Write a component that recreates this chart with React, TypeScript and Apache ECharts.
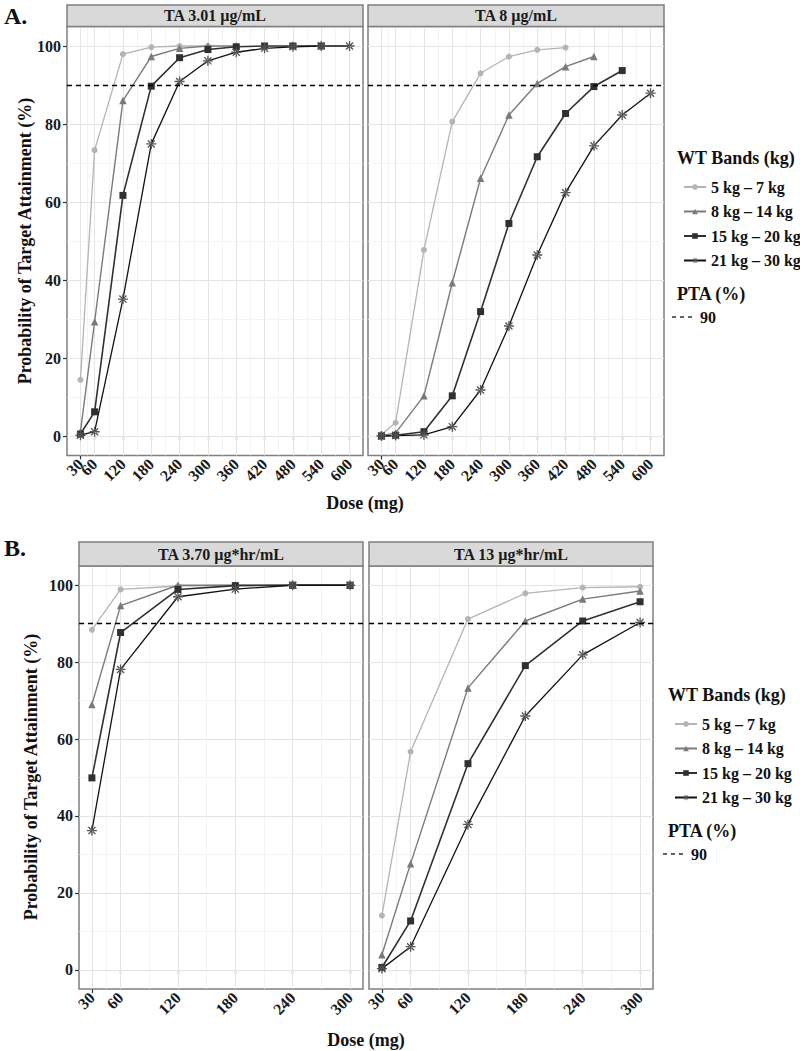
import React, { useEffect, useRef } from 'react';
import * as echarts from 'echarts';

// ---------- data ----------
const WT_BANDS = ['5 kg – 7 kg', '8 kg – 14 kg', '15 kg – 20 kg', '21 kg – 30 kg'];

const DOSES_A = [30, 60, 120, 180, 240, 300, 360, 420, 480, 540, 600];
const DOSES_B = [30, 60, 120, 180, 240, 300];

const X_TICKS_A = [30, 60, 120, 180, 240, 300, 360, 420, 480, 540, 600];
const X_MINOR_A = [45, 90, 150, 210, 270, 330, 390, 450, 510, 570];
const X_TICKS_B = [30, 60, 120, 180, 240, 300];
const X_MINOR_B = [45, 90, 150, 210, 270];
const Y_TICKS = [0, 20, 40, 60, 80, 100];
const Y_MINOR = [10, 30, 50, 70, 90];
const PTA_TARGET = 90;

// Panel A, TA 3.01 µg/mL
const A1_WT1 = [14.4, 73.3, 97.9, 99.7, 100, 100];
const A1_WT2 = [1.1, 29.3, 86.0, 97.3, 99.4, 100, 100];
const A1_WT3 = [0.5, 6.2, 61.7, 89.7, 97.0, 99.1, 99.8, 100, 100, 100];
const A1_WT4 = [0.2, 1.1, 35.1, 74.9, 90.9, 96.2, 98.4, 99.4, 99.8, 100, 100];

// Panel A, TA 8 µg/mL
const A2_WT1 = [0.4, 3.4, 47.7, 80.6, 93.0, 97.3, 99.0, 99.6];
const A2_WT2 = [0.1, 0.8, 10.3, 39.3, 66.1, 82.3, 90.4, 94.7, 97.3];
const A2_WT3 = [0, 0.2, 1.1, 10.3, 31.9, 54.5, 71.6, 82.7, 89.6, 93.7];
const A2_WT4 = [0, 0.1, 0.3, 2.4, 11.8, 28.2, 46.4, 62.4, 74.4, 82.3, 87.9];

// Panel B, TA 3.70 µg*hr/mL
const B1_WT1 = [88.4, 98.9, 99.8, 100, 100, 100];
const B1_WT2 = [69.0, 94.7, 100, 100, 100, 100];
const B1_WT3 = [49.9, 87.7, 98.9, 99.9, 100, 100];
const B1_WT4 = [36.2, 78.1, 97.0, 99.0, 100, 100];

// Panel B, TA 13 µg*hr/mL
const B2_WT1 = [14.1, 56.7, 91.2, 97.9, 99.4, 99.6];
const B2_WT2 = [3.9, 27.6, 73.3, 90.7, 96.4, 98.5];
const B2_WT3 = [0.6, 12.7, 53.6, 79.1, 90.7, 95.7];
const B2_WT4 = [0.3, 6.0, 37.8, 66.0, 81.9, 90.3];

const STRIP_TITLES = ['TA 3.01 µg/mL', 'TA 8 µg/mL', 'TA 3.70 µg*hr/mL', 'TA 13 µg*hr/mL'];

// ---------- styles ----------
const FONT = '"Liberation Serif", "Times New Roman", serif';
const ASTERISK =
  'path://M-0.8,-6L0.8,-6L0.8,6L-0.8,6Z M-6,-0.8L6,-0.8L6,0.8L-6,0.8Z M3.67,4.81L4.81,3.67L-3.67,-4.81L-4.81,-3.67Z M-3.67,4.81L-4.81,3.67L3.67,-4.81L4.81,-3.67Z';

const BAND_STYLE = [
  { symbol: 'circle', size: 6, line: '#b4b4b4', mark: '#b4b4b4', width: 1.3 },
  { symbol: 'triangle', size: 7.5, line: '#7a7a7a', mark: '#7a7a7a', width: 1.4 },
  { symbol: 'rect', size: 7, line: '#303030', mark: '#303030', width: 1.6 },
  { symbol: ASTERISK, size: 10, line: '#111111', mark: '#555555', width: 1.3 },
];

const PANELS = [
  { grid: { left: 67, top: 26.5, width: 296, height: 429 }, xMin: 1.5, xMax: 628.5, ticks: X_TICKS_A, minor: X_MINOR_A, doses: DOSES_A, values: [A1_WT1, A1_WT2, A1_WT3, A1_WT4], stripH: 21.5, showY: true },
  { grid: { left: 368, top: 26.5, width: 296, height: 429 }, xMin: 1.5, xMax: 628.5, ticks: X_TICKS_A, minor: X_MINOR_A, doses: DOSES_A, values: [A2_WT1, A2_WT2, A2_WT3, A2_WT4], stripH: 21.5, showY: false },
  { grid: { left: 79, top: 566, width: 284, height: 423 }, xMin: 16.5, xMax: 313.5, ticks: X_TICKS_B, minor: X_MINOR_B, doses: DOSES_B, values: [B1_WT1, B1_WT2, B1_WT3, B1_WT4], stripH: 24, showY: true },
  { grid: { left: 369, top: 566, width: 284, height: 423 }, xMin: 16.5, xMax: 313.5, ticks: X_TICKS_B, minor: X_MINOR_B, doses: DOSES_B, values: [B2_WT1, B2_WT2, B2_WT3, B2_WT4], stripH: 24, showY: false },
];

function buildOption() {
  const grids: any[] = [];
  const xAxes: any[] = [];
  const yAxes: any[] = [];
  const series: any[] = [];
  const graphic: any[] = [];

  const xAxisBase = (i: number, p: any, values: number[]) => ({
    type: 'value',
    gridIndex: i,
    position: 'bottom',
    min: p.xMin,
    max: p.xMax,
    axisLine: { show: false },
    splitLine: { show: false },
    axisTick: { show: true, length: 4, lineStyle: { color: '#333', width: 1.2 }, customValues: values },
    axisLabel: {
      customValues: values,
      interval: 0,
      rotate: 45,
      margin: 6,
      fontFamily: FONT,
      fontWeight: 'bold',
      fontSize: 16,
      color: '#1a1a1a',
    },
  });

  // extra axes (one per panel) that carry only the first tick label, so that
  // the close 30 / 60 labels are not hidden by the min-label overlap rule
  const extraAxes: any[] = [];

  PANELS.forEach((p, i) => {
    grids.push({
      ...p.grid,
      show: true,
      borderColor: '#7f7f7f',
      borderWidth: 1.5,
      backgroundColor: '#ffffff',
      containLabel: false,
    });
    xAxes.push(xAxisBase(i, p, p.ticks.slice(1)));
    extraAxes.push(xAxisBase(i, p, p.ticks.slice(0, 1)));
    yAxes.push({
      type: 'value',
      gridIndex: i,
      min: -5,
      max: 105,
      axisLine: { show: false },
      splitLine: { show: false },
      axisTick: { show: p.showY, length: 4, lineStyle: { color: '#333', width: 1.2 }, customValues: Y_TICKS },
      axisLabel: {
        show: p.showY,
        customValues: Y_TICKS,
        interval: 0,
        margin: 6,
        fontFamily: FONT,
        fontWeight: 'bold',
        fontSize: 16,
        color: '#1a1a1a',
      },
    });

    // gridlines
    const gl: any[] = [];
    p.ticks.forEach((v) => gl.push({ xAxis: v, lineStyle: { color: '#e4e4e4', width: 1, type: 'solid' } }));
    p.minor.forEach((v) => gl.push({ xAxis: v, lineStyle: { color: '#efefef', width: 0.7, type: 'solid' } }));
    Y_TICKS.forEach((v) => gl.push({ yAxis: v, lineStyle: { color: '#e4e4e4', width: 1, type: 'solid' } }));
    Y_MINOR.forEach((v) => gl.push({ yAxis: v, lineStyle: { color: '#efefef', width: 0.7, type: 'solid' } }));
    series.push({
      type: 'line',
      xAxisIndex: i,
      yAxisIndex: i,
      data: [],
      z: 1,
      silent: true,
      markLine: { z: 1, silent: true, symbol: ['none', 'none'], label: { show: false }, data: gl, animation: false },
    });

    p.values.forEach((vals, b) => {
      const st = BAND_STYLE[b];
      series.push({
        type: 'line',
        name: WT_BANDS[b],
        xAxisIndex: i,
        yAxisIndex: i,
        data: vals.map((v, k) => [p.doses[k], v]),
        symbol: st.symbol,
        symbolSize: st.size,
        showAllSymbol: true,
        z: 3 + b,
        lineStyle: { color: st.line, width: st.width },
        itemStyle: { color: st.mark, borderWidth: 0 },
      });
    });

    series.push({
      type: 'line',
      xAxisIndex: i,
      yAxisIndex: i,
      data: [],
      z: 10,
      silent: true,
      markLine: {
        z: 10,
        silent: true,
        symbol: ['none', 'none'],
        label: { show: false },
        lineStyle: { color: '#000', width: 1.4, type: [5, 4] },
        data: [{ yAxis: PTA_TARGET }],
        animation: false,
      },
    });

    // strip
    graphic.push({
      type: 'rect',
      shape: { x: p.grid.left, y: p.grid.top - p.stripH, width: p.grid.width, height: p.stripH },
      style: { fill: '#d9d9d9', stroke: '#7f7f7f', lineWidth: 1.5 },
      z: 5,
    });
    graphic.push({
      type: 'text',
      x: p.grid.left + p.grid.width / 2,
      y: p.grid.top - p.stripH / 2,
      style: {
        text: STRIP_TITLES[i],
        font: `bold 16px ${FONT}`,
        fill: '#1a1a1a',
        textAlign: 'center',
        textVerticalAlign: 'middle',
      },
      z: 6,
    });
  });

  const txt = (text: string, x: number, y: number, size: number, extra: any = {}) => ({
    type: 'text',
    x,
    y,
    ...extra,
    style: {
      text,
      font: `bold ${size}px ${FONT}`,
      fill: '#111',
      textAlign: extra.align || 'left',
      textVerticalAlign: 'middle',
    },
    z: 6,
  });

  graphic.push(txt('A.', 4, 16, 24));
  graphic.push(txt('B.', 4, 548, 24));
  graphic.push(txt('Probability of Target Attainment (%)', 25, 241, 18, { rotation: Math.PI / 2, align: 'center' }));
  graphic.push(txt('Probability of Target Attainment (%)', 31, 777, 18, { rotation: Math.PI / 2, align: 'center' }));
  graphic.push(txt('Dose (mg)', 365, 503, 18, { align: 'center' }));
  graphic.push(txt('Dose (mg)', 366, 1040, 18, { align: 'center' }));

  // legend titles & PTA
  graphic.push(txt('WT Bands (kg)', 677, 158, 18));
  graphic.push(txt('PTA (%)', 677, 294, 18));
  graphic.push({ type: 'line', shape: { x1: 672, y1: 317, x2: 692, y2: 317 }, style: { stroke: '#333', lineWidth: 1.4, lineDash: [4, 4] }, z: 6 });
  graphic.push(txt('90', 700, 317, 16));

  graphic.push(txt('WT Bands (kg)', 668, 695, 18));
  graphic.push(txt('PTA (%)', 668, 831, 18));
  graphic.push({ type: 'line', shape: { x1: 663, y1: 854, x2: 683, y2: 854 }, style: { stroke: '#333', lineWidth: 1.4, lineDash: [4, 4] }, z: 6 });
  graphic.push(txt('90', 691, 854, 16));

  const legendBase = {
    orient: 'vertical',
    data: WT_BANDS,
    selectedMode: false,
    itemWidth: 22,
    itemHeight: 7,
    itemGap: 7.5,
    textStyle: { fontFamily: FONT, fontWeight: 'bold', fontSize: 16, color: '#111', lineHeight: 17 },
  };

  return {
    animation: false,
    backgroundColor: '#ffffff',
    grid: grids,
    xAxis: [...xAxes, ...extraAxes],
    yAxis: yAxes,
    series,
    graphic,
    legend: [
      { ...legendBase, left: 678, top: 173.5 },
      { ...legendBase, left: 669, top: 710.5 },
    ],
  };
}

export default function App() {
  const ref = useRef<HTMLDivElement>(null);
  useEffect(() => {
    if (!ref.current) return;
    const chart = echarts.init(ref.current, undefined, { renderer: 'svg' });
    chart.setOption(buildOption() as any);
    return () => chart.dispose();
  }, []);
  return <div ref={ref} style={{ position: 'absolute', left: 0, top: 0, width: 800, height: 1051 }} />;
}
